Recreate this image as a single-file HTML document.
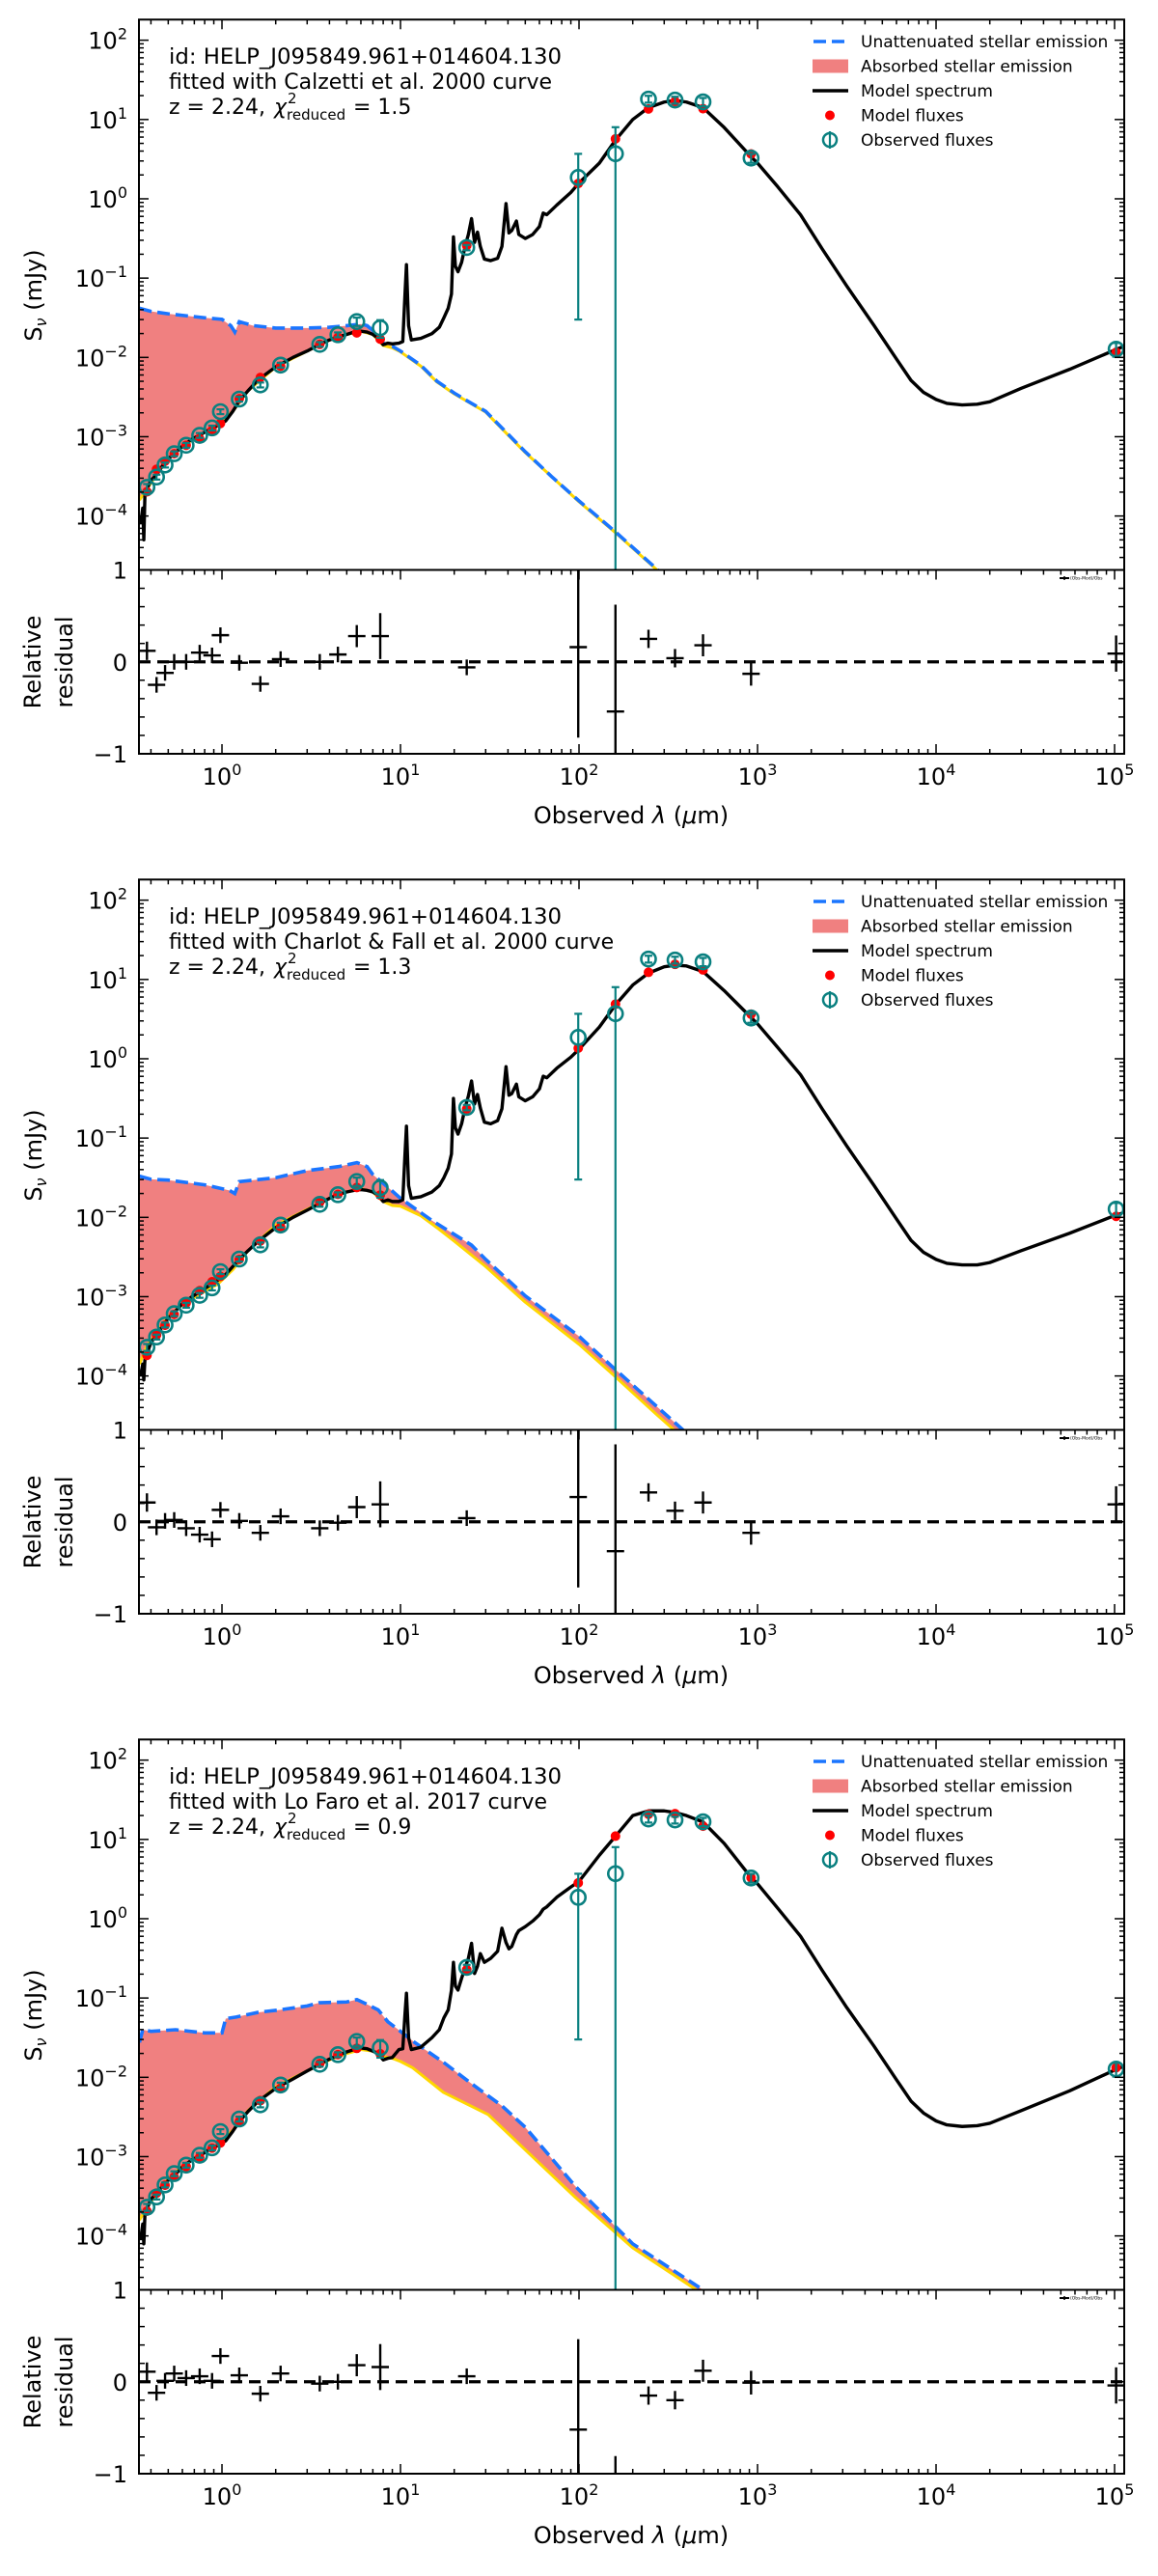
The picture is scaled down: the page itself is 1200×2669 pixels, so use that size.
<!DOCTYPE html>
<html><head><meta charset="utf-8"><title>SED fits</title>
<style>
html,body{margin:0;padding:0;background:#fff;}
svg{display:block;font-family:"DejaVu Sans","Liberation Sans",sans-serif;}
</style></head>
<body>
<svg id="fig" width="1200" height="2669" viewBox="0 0 1200 2669" xmlns="http://www.w3.org/2000/svg">
<rect x="0" y="0" width="1200" height="2669" fill="#fff"/>
</svg>
<script>
// ---------- shared data ----------
const filterWl = [0.38,0.43,0.48,0.54,0.63,0.75,0.88,0.98,1.25,1.64,2.13,3.53,4.46,5.69,7.7,23.5,99,160,245,345,495,920,102000];
const obsFlux = [2.3e-4,3.1e-4,4.4e-4,6.1e-4,7.8e-4,1.04e-3,1.29e-3,2.07e-3,2.98e-3,4.5e-3,8.0e-3,1.46e-2,1.93e-2,2.83e-2,2.36e-2,0.243,1.86,3.7,18.1,17.6,16.7,3.26,0.0127];
const obsErr = [2.3e-5,2.2e-5,3.1e-5,4.3e-5,5.5e-5,7.3e-5,9.0e-5,1.45e-4,2.1e-4,3.2e-4,5.6e-4,1.0e-3,1.35e-3,3.4e-3,5.9e-3,0.019,1.83,4.3,1.8,1.76,2.0,0.42,0.0025];
const modelWl = [0.35,0.36,0.365,0.37,0.38,0.40,0.43,0.47,0.5,0.55,0.6,0.68,0.75,0.85,0.95,1.05,1.15,1.25,1.4,1.6,2.0,2.5,3.0,3.5,4.0,4.5,5.0,5.5,6.0,6.5,7.0,7.5,8.0,8.5,9.0,9.8,10.3,10.6,10.8,11.1,11.5,13,15,16.5,17.5,18.5,19.3,19.8,20.3,21,22,23,24,25,26,27,28,29.5,32,35,37,39,40.5,42,44.6,46,50,55,60,63,66,75,90,100,130,160,200,245,300,345,400,495,650,920,1000,1300,1740,2300,3160,4470,6000,7240,8500,10000,11500,14000,17000,20000,30000,56000,102000,110000];
const xTickLabels = ["0","1","2","3","4","5"];
const yTickLabels = ["2","1","0","\u22121","\u22122","\u22123","\u22124"];
const resTickLabels = ["1","0","\u22121"];

// ---------- panel 1 : Calzetti ----------
const p1Title = "fitted with Calzetti et al. 2000 curve";
const p1Chi = "1.5";
const p1ModelFlux = [2.02e-4,3.88e-4,4.93e-4,6.1e-4,7.8e-4,9.4e-4,1.2e-3,1.47e-3,3.01e-3,5.58e-3,7.76e-3,1.46e-2,1.78e-2,2.04e-2,1.7e-2,0.258,1.56,5.7,13.6,16.9,13.7,3.68,0.0116];
const p1Residual = [0.12,-0.25,-0.12,0,0,0.1,0.07,0.29,-0.01,-0.24,0.03,0,0.08,0.28,0.28,-0.06,0.16,-0.54,0.25,0.04,0.18,-0.13,0.09];
const p1ModelLog = [-4.1,-3.9,-4.3,-3.75,-3.66,-3.55,-3.48,-3.35,-3.28,-3.2,-3.12,-3.03,-2.98,-2.91,-2.86,-2.8,-2.68,-2.55,-2.42,-2.28,-2.12,-2.0,-1.92,-1.84,-1.78,-1.74,-1.71,-1.68,-1.67,-1.68,-1.71,-1.76,-1.84,-1.82,-1.83,-1.82,-1.8,-1.2,-0.83,-1.6,-1.78,-1.76,-1.7,-1.62,-1.5,-1.38,-1.2,-0.48,-0.85,-0.92,-0.8,-0.6,-0.45,-0.25,-0.55,-0.42,-0.6,-0.76,-0.78,-0.75,-0.6,-0.06,-0.43,-0.4,-0.28,-0.45,-0.5,-0.45,-0.35,-0.18,-0.2,-0.08,0.08,0.2,0.45,0.74,1.0,1.15,1.22,1.24,1.22,1.15,0.9,0.53,0.45,0.15,-0.2,-0.63,-1.1,-1.59,-2.02,-2.29,-2.44,-2.53,-2.58,-2.6,-2.59,-2.56,-2.39,-2.15,-1.9,-1.87];
const p1UnattWl = [0.345,0.4,0.5,0.6,0.8,1.0,1.12,1.18,1.25,1.5,2,3,4,5,6,6.5,7,7.5,8,9,10,13,16,20,25,30,50,70,100,160,270,400];
const p1UnattLog = [-1.38,-1.42,-1.45,-1.47,-1.5,-1.52,-1.6,-1.68,-1.55,-1.6,-1.63,-1.63,-1.62,-1.6,-1.58,-1.6,-1.66,-1.75,-1.82,-1.86,-1.92,-2.1,-2.3,-2.45,-2.58,-2.68,-3.19,-3.5,-3.81,-4.2,-4.66,-5.0];
const p1AttWl = [0.345,0.38,0.43,0.5,0.6,0.75,0.95,1.15,1.4,2,3,4,5,6,7,8,9,10,13,16,20,30,50,100,160,270,400];
const p1AttLog = [-3.8,-3.66,-3.48,-3.28,-3.12,-2.98,-2.86,-2.68,-2.42,-2.12,-1.92,-1.78,-1.71,-1.67,-1.71,-1.85,-1.88,-1.93,-2.11,-2.31,-2.46,-2.69,-3.2,-3.82,-4.21,-4.67,-5.01];

// ---------- panel 2 : Charlot & Fall ----------
const p2Title = "fitted with Charlot & Fall et al. 2000 curve";
const p2Chi = "1.3";
const p2ModelFlux = [1.82e-4,3.29e-4,4.36e-4,5.98e-4,8.35e-4,1.19e-3,1.54e-3,1.8e-3,2.95e-3,5.04e-3,7.52e-3,1.56e-2,1.95e-2,2.38e-2,1.91e-2,0.233,1.36,4.88,12.3,15.5,13.2,3.65,0.0103];
const p2Residual = [0.21,-0.06,0.01,0.02,-0.07,-0.14,-0.19,0.13,0.01,-0.12,0.06,-0.07,-0.01,0.16,0.19,0.04,0.27,-0.32,0.32,0.12,0.21,-0.12,0.19];
const p2ModelLog = [-4.0,-3.85,-4.05,-3.8,-3.72,-3.58,-3.48,-3.36,-3.27,-3.18,-3.09,-3.0,-2.94,-2.86,-2.79,-2.72,-2.62,-2.53,-2.42,-2.3,-2.13,-2.0,-1.91,-1.83,-1.76,-1.71,-1.68,-1.66,-1.65,-1.66,-1.68,-1.72,-1.8,-1.78,-1.8,-1.8,-1.78,-1.2,-0.85,-1.6,-1.76,-1.74,-1.68,-1.6,-1.5,-1.38,-1.2,-0.5,-0.87,-0.95,-0.82,-0.62,-0.47,-0.28,-0.57,-0.45,-0.62,-0.8,-0.82,-0.78,-0.63,-0.1,-0.46,-0.44,-0.32,-0.48,-0.53,-0.48,-0.38,-0.22,-0.24,-0.12,0.02,0.12,0.4,0.68,0.93,1.08,1.16,1.18,1.17,1.1,0.86,0.52,0.44,0.14,-0.2,-0.63,-1.1,-1.59,-2.02,-2.29,-2.44,-2.53,-2.58,-2.6,-2.6,-2.57,-2.42,-2.2,-1.97,-1.95];
const p2UnattWl = [0.345,0.4,0.5,0.8,1.1,1.18,1.25,2,3,4.5,5.7,6.5,7,8.5,10,15,25,30,50,100,160,400,600];
const p2UnattLog = [-1.48,-1.52,-1.53,-1.59,-1.66,-1.7,-1.55,-1.5,-1.41,-1.36,-1.31,-1.36,-1.46,-1.62,-1.76,-2.04,-2.35,-2.53,-2.99,-3.5,-3.92,-4.72,-5.1];
const p2AttWl = [0.345,0.38,0.43,0.5,0.6,0.75,0.95,1.15,1.4,2,3,4,5,6,7,8,9,10,13,16,20,30,50,100,160,270,400];
const p2AttLog = [-3.85,-3.62,-3.46,-3.25,-3.1,-2.97,-2.84,-2.66,-2.42,-2.1,-1.9,-1.76,-1.68,-1.64,-1.68,-1.8,-1.85,-1.86,-1.98,-2.13,-2.3,-2.62,-3.07,-3.6,-4.01,-4.48,-4.82];

// ---------- panel 3 : Lo Faro ----------
const p3Title = "fitted with Lo Faro et al. 2017 curve";
const p3Chi = "0.9";
const p3ModelFlux = [2.05e-4,3.47e-4,4.36e-4,5.55e-4,7.49e-4,9.78e-4,1.28e-3,1.49e-3,2.77e-3,5.09e-3,7.28e-3,1.49e-2,1.93e-2,2.32e-2,1.98e-2,0.228,2.83,11.0,20.8,21.1,14.7,3.29,0.0132];
const p3Residual = [0.11,-0.12,0.01,0.09,0.04,0.06,0.01,0.28,0.07,-0.13,0.09,-0.02,0,0.18,0.16,0.06,-0.52,-1.97,-0.15,-0.2,0.12,-0.01,-0.04];
const p3ModelLog = [-4.05,-3.85,-4.1,-3.75,-3.66,-3.54,-3.46,-3.36,-3.3,-3.22,-3.13,-3.04,-2.99,-2.91,-2.86,-2.8,-2.68,-2.56,-2.43,-2.3,-2.14,-2.02,-1.92,-1.84,-1.77,-1.72,-1.68,-1.65,-1.63,-1.64,-1.67,-1.7,-1.78,-1.76,-1.75,-1.65,-1.64,-1.2,-0.94,-1.5,-1.65,-1.62,-1.5,-1.4,-1.25,-1.15,-0.9,-0.55,-0.85,-0.9,-0.75,-0.62,-0.5,-0.31,-0.69,-0.6,-0.44,-0.55,-0.5,-0.41,-0.12,-0.3,-0.38,-0.35,-0.2,-0.15,-0.1,-0.03,0.05,0.12,0.15,0.27,0.4,0.47,0.8,1.04,1.3,1.36,1.36,1.34,1.3,1.22,0.95,0.52,0.44,0.13,-0.22,-0.65,-1.12,-1.6,-2.03,-2.3,-2.45,-2.55,-2.6,-2.62,-2.61,-2.58,-2.42,-2.17,-1.9,-1.87];
const p3UnattWl = [0.345,0.36,0.4,0.55,0.8,1.0,1.05,1.2,1.6,2.1,3,3.5,5,5.7,6.5,7.5,8.5,10,12,17.4,25,37,50,95,200,480,600];
const p3UnattLog = [-1.56,-1.4,-1.42,-1.4,-1.44,-1.44,-1.26,-1.24,-1.18,-1.15,-1.1,-1.06,-1.05,-1.02,-1.08,-1.15,-1.3,-1.42,-1.56,-1.81,-2.08,-2.36,-2.63,-3.37,-4.1,-4.66,-4.85];
const p3AttWl = [0.345,0.38,0.43,0.5,0.6,0.75,0.95,1.15,1.4,2,3,4,5,6,7,8,9,10,11.7,17.4,31,95,200,440,600];
const p3AttLog = [-3.8,-3.64,-3.47,-3.28,-3.12,-2.98,-2.85,-2.67,-2.42,-2.12,-1.92,-1.78,-1.7,-1.65,-1.67,-1.74,-1.76,-1.8,-1.88,-2.19,-2.47,-3.51,-4.15,-4.66,-4.9];

// ---------- layout ----------
const NS = "http://www.w3.org/2000/svg";
const svg = document.getElementById("fig");
const AX_L = 144, AX_R = 1165, MAIN_T = 20.3, MAIN_B = 590.5, RES_B = 781;
const X_LOG_MIN = -0.465, X_LOG_MAX = 5.054, Y_LOG_MIN = -4.68, Y_LOG_MAX = 2.26;
const TEAL = "#0a8080", BLUE = "#1a75ff", YEL = "#ffd700", CORAL = "#f08080";

function xLog(lg){ return AX_L + (lg - X_LOG_MIN) * (AX_R - AX_L) / (X_LOG_MAX - X_LOG_MIN); }
function xScale(wl){ return xLog(Math.log10(wl)); }
function yLog(lg, off){ return off + MAIN_B - (lg - Y_LOG_MIN) * (MAIN_B - MAIN_T) / (Y_LOG_MAX - Y_LOG_MIN); }
function yScale(v, off){ return yLog(Math.log10(Math.max(v, 1e-12)), off); }
function yRes(r, off){ return off + (MAIN_B + RES_B) / 2 - r * (RES_B - MAIN_B) / 2; }

function mk(tag, attrs, parent){
  const el = document.createElementNS(NS, tag);
  for (const k in attrs) el.setAttribute(k, attrs[k]);
  (parent || svg).appendChild(el);
  return el;
}
function txt(str, attrs, parent){
  const t = mk("text", attrs, parent);
  t.textContent = str;
  return t;
}
function pts(xs, ys, off){
  return xs.map((w, i) => xScale(w).toFixed(2) + "," + yLog(ys[i], off).toFixed(2)).join(" ");
}

function drawPanel(n, off, title, chi, modelFlux, residual, modelLog, unattWl, unattLog, attWl, attLog){
  const g = mk("g", {});
  
  

  const defs = mk("defs", {}, g);
  const cp = mk("clipPath", {id: "clipm" + n}, defs);
  mk("rect", {x: AX_L, y: off + MAIN_T, width: AX_R - AX_L, height: MAIN_B - MAIN_T}, cp);
  const cr = mk("clipPath", {id: "clipr" + n}, defs);
  mk("rect", {x: AX_L, y: off + MAIN_B, width: AX_R - AX_L, height: RES_B - MAIN_B}, cr);

  const main = mk("g", {"clip-path": "url(#clipm" + n + ")"}, g);
  
  

  const poly = pts(unattWl, unattLog, off) + " " + pts(attWl.slice().reverse(), attLog.slice().reverse(), off);
  const fill = mk("polygon", {points: poly, fill: CORAL, stroke: "none"}, main);
  
  

  const att = mk("polyline", {points: pts(attWl, attLog, off), fill: "none", stroke: YEL, "stroke-width": 3, "stroke-linejoin": "round"}, main);
  
  

  const un = mk("polyline", {points: pts(unattWl, unattLog, off), fill: "none", stroke: BLUE, "stroke-width": 3.6, "stroke-dasharray": "13,6"}, main);
  
  

  const ms = mk("polyline", {points: pts(modelWl, modelLog, off), fill: "none", stroke: "#000", "stroke-width": 3.4, "stroke-linejoin": "round"}, main);
  
  

  modelFlux.forEach((v, i) => {
    const c = mk("circle", {cx: xScale(filterWl[i]), cy: yScale(v, off), r: 5, fill: "#ff0000"}, main);
    
    
  });
  obsFlux.forEach((v, i) => {
    const x = xScale(filterWl[i]);
    const yHi = yScale(v + obsErr[i], off);
    const yLo = obsFlux[i] - obsErr[i] > 0 ? yScale(v - obsErr[i], off) : off + MAIN_B + 5;
    const eb = mk("g", {stroke: TEAL, "stroke-width": 2.2, fill: "none"}, main);
    
    
    mk("line", {x1: x, x2: x, y1: yHi, y2: yLo}, eb);
    mk("line", {x1: x - 4, x2: x + 4, y1: yHi, y2: yHi}, eb);
    mk("line", {x1: x - 4, x2: x + 4, y1: yLo, y2: yLo}, eb);
    const c = mk("circle", {cx: x, cy: yScale(v, off), r: 7.5, fill: "none", stroke: TEAL, "stroke-width": 2.6}, main);
    
    
  });

  const res = mk("g", {"clip-path": "url(#clipr" + n + ")"}, g);
  
  
  const zl = mk("line", {x1: AX_L, x2: AX_R, y1: yRes(0, off), y2: yRes(0, off), stroke: "#000", "stroke-width": 3.2, "stroke-dasharray": "12,7"}, res);
  
  
  residual.forEach((r, i) => {
    const x = xScale(filterWl[i]);
    const e = Math.max(obsErr[i] / obsFlux[i], 0.085);
    const rg = mk("g", {stroke: "#000", "stroke-width": 2.4}, res);
    
    
    mk("line", {x1: x, x2: x, y1: yRes(r + e, off), y2: yRes(r - e, off)}, rg);
    mk("line", {x1: x - 9, x2: x + 9, y1: yRes(r, off), y2: yRes(r, off)}, rg);
  });

  const ax = mk("g", {stroke: "#000", fill: "none"}, g);
  
  
  mk("rect", {x: AX_L, y: off + MAIN_T, width: AX_R - AX_L, height: RES_B - MAIN_T, "stroke-width": 2}, ax);
  mk("line", {x1: AX_L, x2: AX_R, y1: off + MAIN_B, y2: off + MAIN_B, "stroke-width": 2}, ax);

  const xt = mk("g", {stroke: "#000", "stroke-width": 1.5}, g);
  
  
  for (let d = -1; d <= 5; d++){
    for (let m = 1; m <= 9; m++){
      const lg = d + Math.log10(m);
      if (lg < X_LOG_MIN || lg > X_LOG_MAX) continue;
      const x = xLog(lg), L = m === 1 ? 10 : 5;
      mk("line", {x1: x, x2: x, y1: off + MAIN_T, y2: off + MAIN_T + L}, xt);
      mk("line", {x1: x, x2: x, y1: off + RES_B, y2: off + RES_B - L}, xt);
      mk("line", {x1: x, x2: x, y1: off + MAIN_B, y2: off + MAIN_B + L}, xt);
    }
  }
  const yt = mk("g", {stroke: "#000", "stroke-width": 1.5}, g);
  
  
  for (let d = -5; d <= 2; d++){
    for (let m = 1; m <= 9; m++){
      const lg = d + Math.log10(m);
      if (lg < Y_LOG_MIN || lg > Y_LOG_MAX) continue;
      const y = yLog(lg, off), L = m === 1 ? 10 : 5;
      mk("line", {x1: AX_L, x2: AX_L + L, y1: y, y2: y}, yt);
      mk("line", {x1: AX_R, x2: AX_R - L, y1: y, y2: y}, yt);
    }
  }
  for (let k = -4; k <= 4; k++){
    const y = yRes(k * 0.2, off);
    mk("line", {x1: AX_L, x2: AX_L + 6, y1: y, y2: y}, yt);
    mk("line", {x1: AX_R, x2: AX_R - 6, y1: y, y2: y}, yt);
  }

  xTickLabels.forEach((s, i) => {
    const t = txt("10", {x: xLog(Number(s)), y: off + 813, "font-size": 24, "text-anchor": "middle", fill: "#000"}, g);
    
    
    const sp = mk("tspan", {dy: -10, "font-size": 16}, t); sp.textContent = s;
  });
  yTickLabels.forEach((s, i) => {
    const v = Number(s.replace("\u2212", "-"));
    const t = txt("10", {x: 132, y: yLog(v, off) + 9, "font-size": 24, "text-anchor": "end", fill: "#000"}, g);
    
    
    const sp = mk("tspan", {dy: -10, "font-size": 16}, t); sp.textContent = s;
  });
  resTickLabels.forEach(s => {
    const v = Number(s.replace("\u2212", "-"));
    const t = txt(s, {x: 132, y: yRes(v, off) + 9, "font-size": 24, "text-anchor": "end", fill: "#000"}, g);
    
    
  });

  const yl = txt("S", {transform: "translate(43," + (off + 306) + ") rotate(-90)", "font-size": 24, "text-anchor": "middle", fill: "#000"}, g);
  
  
  const ysub = mk("tspan", {dy: 5, "font-size": 16, "font-style": "italic"}, yl); ysub.textContent = "\u03BD";
  const yrest = mk("tspan", {dy: -5}, yl); yrest.textContent = " (mJy)";
  const rl1 = txt("Relative", {transform: "translate(42," + (off + 686) + ") rotate(-90)", "font-size": 24, "text-anchor": "middle", fill: "#000"}, g);
  
  
  const rl2 = txt("residual", {transform: "translate(75," + (off + 686) + ") rotate(-90)", "font-size": 24, "text-anchor": "middle", fill: "#000"}, g);
  
  
  const xl = txt("Observed ", {x: 654, y: off + 853, "font-size": 24, "text-anchor": "middle", fill: "#000"}, g);
  
  
  const xl2 = mk("tspan", {"font-style": "italic"}, xl); xl2.textContent = "\u03BB";
  const xl3 = mk("tspan", {}, xl); xl3.textContent = " (";
  const xl4 = mk("tspan", {"font-style": "italic"}, xl); xl4.textContent = "\u03BC";
  const xl5 = mk("tspan", {}, xl); xl5.textContent = "m)";

  const an = mk("g", {"font-size": 22, fill: "#000"}, g);
  
  
  txt("id: HELP_J095849.961+014604.130", {x: 175, y: off + 66, textLength: 407, lengthAdjust: "spacingAndGlyphs"}, an);
  txt(title, {x: 175, y: off + 92}, an);
  txt("z = 2.24,", {x: 175, y: off + 118}, an);
  txt("\u03C7", {x: 284, y: off + 118, "font-style": "italic"}, an);
  txt("2", {x: 298, y: off + 107, "font-size": 15}, an);
  txt("reduced", {x: 297, y: off + 124, "font-size": 15}, an);
  txt("= " + chi, {x: 366, y: off + 118}, an);

  const lg = mk("g", {"font-size": 17, fill: "#000"}, g);
  
  
  const ly = [43, 68.5, 94, 119.5, 145];
  const names = ["Unattenuated stellar emission","Absorbed stellar emission","Model spectrum","Model fluxes","Observed fluxes"];
  mk("line", {x1: 843, x2: 879, y1: off + ly[0], y2: off + ly[0], stroke: BLUE, "stroke-width": 3.6, "stroke-dasharray": "13,6"}, lg);
  mk("rect", {x: 842, y: off + ly[1] - 7, width: 37, height: 14, fill: CORAL}, lg);
  mk("line", {x1: 842, x2: 879, y1: off + ly[2], y2: off + ly[2], stroke: "#000", "stroke-width": 3.5}, lg);
  mk("circle", {cx: 860, cy: off + ly[3], r: 5, fill: "#ff0000"}, lg);
  mk("circle", {cx: 860, cy: off + ly[4], r: 7, fill: "none", stroke: TEAL, "stroke-width": 2.5}, lg);
  mk("line", {x1: 860, x2: 860, y1: off + ly[4] - 9, y2: off + ly[4] + 9, stroke: TEAL, "stroke-width": 2.2}, lg);
  names.forEach((s, i) => {
    const t = txt(s, {x: 892, y: off + ly[i] + 6}, lg);
    
    
  });
  const rlg = mk("g", {}, g);
  
  
  mk("line", {x1: 1098, x2: 1108, y1: off + 599, y2: off + 599, stroke: "#000", "stroke-width": 2}, rlg);
  mk("line", {x1: 1103, x2: 1103, y1: off + 597, y2: off + 601, stroke: "#000", "stroke-width": 1.5}, rlg);
  txt("(Obs-Mod)/Obs", {x: 1109, y: off + 600.5, "font-size": 4.5, fill: "#000"}, rlg);
}

drawPanel(1, 0, p1Title, p1Chi, p1ModelFlux, p1Residual, p1ModelLog, p1UnattWl, p1UnattLog, p1AttWl, p1AttLog);
drawPanel(2, 891, p2Title, p2Chi, p2ModelFlux, p2Residual, p2ModelLog, p2UnattWl, p2UnattLog, p2AttWl, p2AttLog);
drawPanel(3, 1782, p3Title, p3Chi, p3ModelFlux, p3Residual, p3ModelLog, p3UnattWl, p3UnattLog, p3AttWl, p3AttLog);
</script>
</body></html>
